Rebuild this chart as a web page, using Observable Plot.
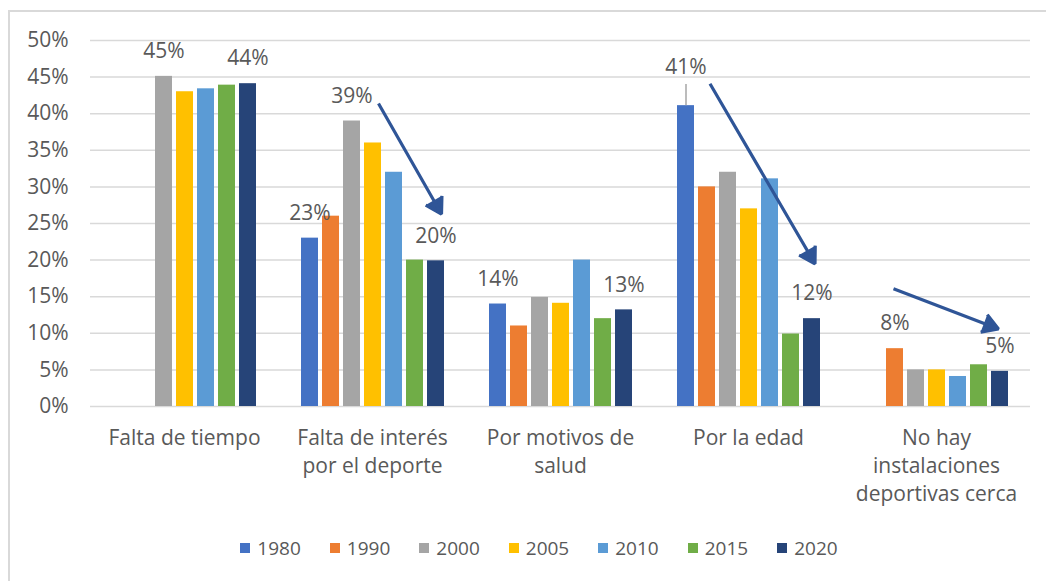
<!DOCTYPE html>
<html>
<head>
<meta charset="utf-8">
<script src="https://cdn.jsdelivr.net/npm/d3@7"></script>
<script src="https://cdn.jsdelivr.net/npm/@observablehq/plot@0.6"></script>
<style>
  html, body { margin: 0; padding: 0; background: #fff; }
  body { width: 1046px; height: 581px; overflow: hidden; position: relative; font-family: "Open Sans", sans-serif; }
  #frame { position: absolute; left: 8px; top: 10px; right: -4px; bottom: -4px; border-top: 2px solid #d9d9d9; border-left: 2px solid #d9d9d9; }
  #chart { position: absolute; left: 0; top: 0; }
  #legend { position: absolute; left: 0; width: 1046px; top: 534px; display: flex; justify-content: center; gap: 29px; color: #595959; font-size: 19px; line-height: 28px; padding-left: 32px; box-sizing: border-box; }
  #legend .item { display: flex; align-items: center; }
  #legend .sw { width: 10px; height: 10px; margin-right: 7px; }
</style>
</head>
<body>
<div id="frame"></div>
<div id="chart"></div>
<div id="legend"></div>
<script>
// ---- data ----
const categories = ["Falta de tiempo", "Falta de interés\npor el deporte", "Por motivos de\nsalud", "Por la edad", "No hay\ninstalaciones\ndeportivas cerca"];
const years = ["1980", "1990", "2000", "2005", "2010", "2015", "2020"];
const colors = ["#4472C4", "#ED7D31", "#A5A5A5", "#FFC000", "#5B9BD5", "#70AD47", "#264478"];
const v1980 = [null, 0.23, 0.14, 0.411, null];
const v1990 = [null, 0.26, 0.11, 0.30, 0.079];
const v2000 = [0.451, 0.39, 0.149, 0.32, 0.05];
const v2005 = [0.43, 0.36, 0.141, 0.27, 0.05];
const v2010 = [0.434, 0.32, 0.20, 0.311, 0.041];
const v2015 = [0.439, 0.20, 0.12, 0.099, 0.057];
const v2020 = [0.441, 0.199, 0.132, 0.12, 0.048];
const yTicks = [0, 0.05, 0.10, 0.15, 0.20, 0.25, 0.30, 0.35, 0.40, 0.45, 0.50];
// labelled bars: [category index, year]
const labelled = [[0, "2000"], [0, "2020"], [1, "1980"], [1, "2000"], [1, "2020"], [2, "1980"], [2, "2020"], [3, "2020"], [4, "1990"], [4, "2020"]];
const leaderLabel = [[3, "1980"]];
const leaderTop = 0.44;
// trend arrows (data coordinates): category index, from year, to year, from value, to value
const arrows = [
  {cat: 1, from: "2005", to: "2020", y1: 0.414, y2: 0.263},
  {cat: 3, from: "1990", to: "2020", y1: 0.441, y2: 0.195},
  {cat: 4, from: "1990", to: "2020", y1: 0.161, y2: 0.106}
];

// ---- build table ----
const series = [v1980, v1990, v2000, v2005, v2010, v2015, v2020];
const data = [];
categories.forEach((c, i) => years.forEach((y, j) => {
  if (series[j][i] != null) data.push({cat: c, year: y, value: series[j][i]});
}));
const find = ([ci, yr]) => data.find(d => d.cat === categories[ci] && d.year === yr);
const labels = labelled.map(find);
const leader = leaderLabel.map(find);
const pct = d3.format(".0%");
const arrowData = arrows.map(a => ({...a, cat: categories[a.cat]}));
const arrowDx = [5.5, 3, -1.5];

const textColor = "#595959";
const arrowColor = "#2F5597";
const chart = Plot.plot({
  width: 1046,
  height: 520,
  marginLeft: 90,
  marginRight: 16,
  marginTop: 40,
  marginBottom: 114,
  style: {fontFamily: "'Open Sans', sans-serif", fontSize: "21px", color: textColor, background: "transparent", overflow: "visible"},
  fx: {domain: categories, axis: null, padding: 0},
  x: {domain: years, axis: null, paddingInner: 0.2, paddingOuter: 0.975},
  y: {domain: [0, 0.5], ticks: yTicks, tickFormat: pct, tickSize: 0, tickPadding: 22, label: null},
  color: {domain: years, range: colors},
  marks: [
    Plot.ruleY(yTicks, {y: d => d, stroke: "#d9d9d9", strokeWidth: 1.5}),
    Plot.barY(data, {fx: "cat", x: "year", y: "value", fill: "year"}),
    Plot.text(labels, {fx: "cat", x: "year", y: "value", text: d => pct(d.value), dy: -25, fill: textColor, fontSize: 21}),
    Plot.ruleX(leader, {fx: "cat", x: "year", y1: "value", y2: () => leaderTop, stroke: "#a6a6a6", strokeWidth: 1.5}),
    Plot.text(leader, {fx: "cat", x: "year", y: "value", text: d => pct(d.value), dy: -38, fill: textColor, fontSize: 21}),
    ...arrowData.map((a, i) => Plot.arrow([a], {fx: "cat", x1: "from", x2: "to", y1: "y1", y2: "y2", dx: arrowDx[i], stroke: arrowColor, fill: arrowColor, strokeWidth: 3.2, headLength: 8.5, headAngle: 62, strokeLinejoin: "miter", strokeLinecap: "butt"})),
    Plot.text(categories, {fx: d => d, text: d => d, frameAnchor: "bottom", lineAnchor: "top", dy: 19, lineHeight: 1.333, fill: textColor, fontSize: 21})
  ]
});
document.getElementById("chart").appendChild(chart);

const legend = document.getElementById("legend");
years.forEach((y, i) => {
  const it = document.createElement("div");
  it.className = "item";
  it.innerHTML = `<span class="sw" style="background:${colors[i]}"></span><span>${y}</span>`;
  legend.appendChild(it);
});
</script>
</body>
</html>
